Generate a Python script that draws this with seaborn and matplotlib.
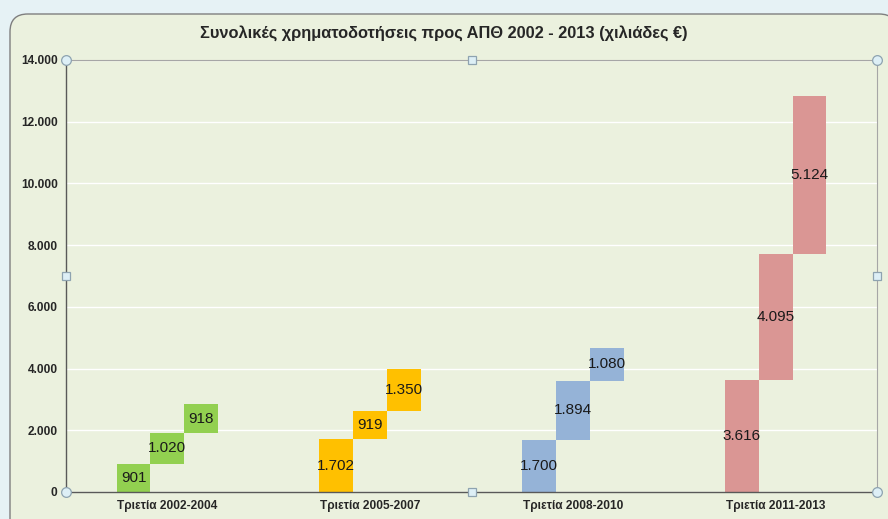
import numpy as np
import pandas as pd
import matplotlib
matplotlib.use('Agg')
import matplotlib.pyplot as plt
from matplotlib.patches import FancyBboxPatch
from matplotlib.ticker import FuncFormatter
import seaborn as sns

# ─── Δεδομένα ───────────────────────────────────────────────────────────────
periods = ['Τριετία 2002-2004', 'Τριετία 2005-2007',
           'Τριετία 2008-2010', 'Τριετία 2011-2013']
year1 = [901, 1702, 1700, 3616]
year2 = [1020, 919, 1894, 4095]
year3 = [918, 1350, 1080, 5124]
group_colors = ['#92D050', '#FFC000', '#95B3D7', '#DA9694']

BG = '#EBF1DE'

rows = []
for p, a, b, c in zip(periods, year1, year2, year3):
    rows.append({'period': p, 'step': 0, 'value': a, 'base': 0})
    rows.append({'period': p, 'step': 1, 'value': b, 'base': a})
    rows.append({'period': p, 'step': 2, 'value': c, 'base': a + b})
df = pd.DataFrame(rows)


def fmt_dot(v, pos=None):
    return f'{int(round(v)):,}'.replace(',', '.')


sns.set_style('white')
plt.rcParams['font.family'] = ['Liberation Sans', 'DejaVu Sans']

fig = plt.figure(figsize=(8.88, 5.19), dpi=100)
fig.patch.set_facecolor('#E6F2F5')
frame = FancyBboxPatch((10 / 888, -0.05), 1.01 - 10 / 888, 1 - 14 / 519 + 0.05,
                       boxstyle='round,pad=0,rounding_size=0.02',
                       transform=fig.transFigure, facecolor=BG,
                       edgecolor='#7F7F7F', linewidth=1.0, zorder=-5,
                       mutation_aspect=888 / 519)
fig.patches.append(frame)

ax = fig.add_axes([66 / 888, 1 - 492 / 519, (877 - 66) / 888, (492 - 60) / 519])
ax.set_facecolor(BG)

# Κυμαινόμενες μπάρες (waterfall ανά τριετία)
sns.barplot(data=df, x='period', y='value', hue='step',
            hue_order=[0, 1, 2], order=periods, dodge=True,
            width=0.5, gap=0, errorbar=None, legend=False, ax=ax,
            linewidth=0, saturation=1)

for k, patches in enumerate(ax.containers):
    sub = df[df['step'] == k].set_index('period').loc[periods]
    for patch, col, (_, r) in zip(patches, group_colors, sub.iterrows()):
        patch.set_y(r['base'])
        patch.set_facecolor(col)
        patch.set_edgecolor('none')
        cx = patch.get_x() + patch.get_width() / 2
        ax.text(cx, r['base'] + r['value'] / 2, fmt_dot(r['value']),
                ha='center', va='center', fontsize=11, color='#1a1a1a',
                zorder=5)

ax.set_ylim(0, 14000)
ax.set_xlim(-0.5, 3.5)
ax.set_yticks(np.arange(0, 14001, 2000))
ax.yaxis.set_major_formatter(FuncFormatter(fmt_dot))
ax.grid(axis='y', color='white', linewidth=1.0)
ax.set_axisbelow(True)
ax.set_xlabel('')
ax.set_ylabel('')
ax.tick_params(axis='both', length=0, labelsize=8.6, pad=6)
for lab in ax.get_xticklabels() + ax.get_yticklabels():
    lab.set_fontweight('bold')

for side in ['left', 'bottom']:
    ax.spines[side].set_color('#595959')
    ax.spines[side].set_linewidth(1.0)
for side in ['top', 'right']:
    ax.spines[side].set_color('#A6A6A6')
    ax.spines[side].set_linewidth(0.8)

# Λαβές επιλογής της περιοχής σχεδίασης
hx = [0, 0.5, 1, 0, 1, 0, 0.5, 1]
hy = [1, 1, 1, 0.5, 0.5, 0, 0, 0]
hm = ['o', 's', 'o', 's', 's', 'o', 's', 'o']
for x_, y_, m_ in zip(hx, hy, hm):
    ax.plot(x_, y_, marker=m_, markersize=7 if m_ == 'o' else 5.5,
            markerfacecolor='#DDEFF6', markeredgecolor='#8EA3B0',
            markeredgewidth=0.9, transform=ax.transAxes, clip_on=False,
            zorder=10)

fig.text(0.5, 1 - 33 / 519,
         'Συνολικές χρηματοδοτήσεις προς ΑΠΘ 2002 - 2013 (χιλιάδες €)',
         ha='center', va='center', fontsize=11.8, fontweight='bold')

fig.savefig('out.png', dpi=100, facecolor=fig.get_facecolor())
